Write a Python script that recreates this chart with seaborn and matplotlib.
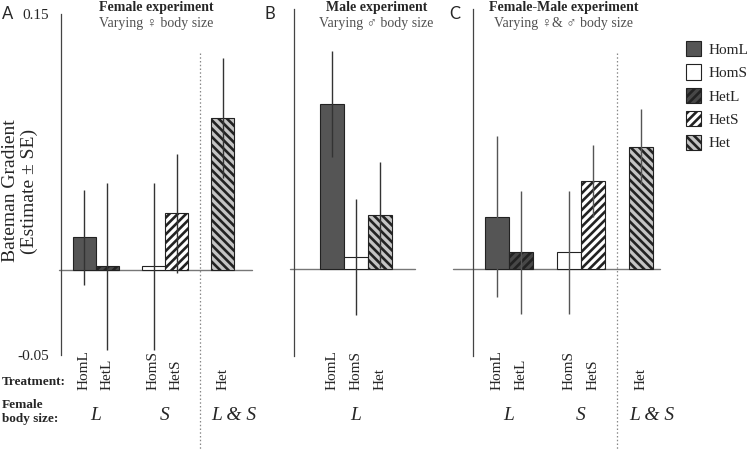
import matplotlib
matplotlib.use("Agg")
import matplotlib.pyplot as plt
import seaborn as sns
import pandas as pd
from matplotlib.patches import Patch
from matplotlib import transforms

sns.set_style("white")
plt.rcParams["font.family"] = ["Liberation Serif", "DejaVu Sans"]
plt.rcParams["hatch.linewidth"] = 1.9

# ---------------- data ----------------
treat_a = ["HomL", "HetL", "HomS", "HetS", "Het"]
est_a = [0.019, 0.002, 0.002, 0.033, 0.089]
se_a = [0.028, 0.049, 0.049, 0.035, 0.035]

treat_b = ["HomL", "HomS", "Het"]
est_b = [0.097, 0.007, 0.032]
se_b = [0.031, 0.034, 0.031]

treat_c = ["HomL", "HetL", "HomS", "HetS", "Het"]
est_c = [0.031, 0.010, 0.010, 0.052, 0.072]
se_c = [0.047, 0.036, 0.036, 0.021, 0.022]

ytick_labels = ["-0.05", "0.15"]
legend_labels = ["HomL", "HomS", "HetL", "HetS", "Het"]

titles = ["Female experiment", "Male experiment", "Female-Male experiment"]
subtitles = ["Varying \u2640 body size", "Varying \u2642 body size",
             "Varying \u2640& \u2642 body size"]
letters = ["A", "B", "C"]

# ---------------- styles ----------------
fills = ["#555555", "#ffffff", "#474747", "#ffffff", "#c4c4c4"]
hatches = ["", "", "////", "////", "\\\\\\\\"]
fill_map = dict(zip(legend_labels, fills))
hatch_map = dict(zip(legend_labels, hatches))
EDGE = "#222222"

W, H = 750, 449
fig = plt.figure(figsize=(W / 100, H / 100), dpi=100)


def rect(l, t, r, b):
    return [l / W, 1 - b / H, (r - l) / W, (b - t) / H]


slots_a = ["HomL", "HetL", "_g1", "HomS", "HetS", "_g2", "Het"]
slots_b = ["HomL", "HomS", "Het"]
slots_c = ["HomL", "HetL", "_g1", "HomS", "HetS", "_g2", "Het"]

groups_a = [("L", ["HomL", "HetL"]), ("S", ["HomS", "HetS"]), ("L & S", ["Het"])]
groups_b = [("L", ["HomL", "HomS", "Het"])]
groups_c = groups_a

panels = [
    dict(treat=treat_a, est=est_a, se=se_a, slots=slots_a, groups=groups_a,
         rect=rect(61, 14, 252, 355), ylim=(-0.05, 0.15), xlim=(-1.02, 7.28),
         labels=True, zxmin=-0.012, dotted=5.0, title_x=156.5, letter_x=8,
         err="#333333"),
    dict(treat=treat_b, est=est_b, se=se_b, slots=slots_b, groups=groups_b,
         rect=rect(294.3, 9.3, 415, 356), ylim=(-0.0508, 0.1525), xlim=(-1.54, 3.43),
         labels=False, zxmin=-0.035, dotted=None, title_x=376.5, letter_x=270,
         err="#333333"),
    dict(treat=treat_c, est=est_c, se=se_c, slots=slots_c, groups=groups_c,
         rect=rect(473, 9.3, 660, 356), ylim=(-0.0508, 0.1525), xlim=(-1.0, 6.79),
         labels=False, zxmin=-0.107, dotted=5.0, title_x=564, letter_x=455,
         err="#555555"),
]

for i, p in enumerate(panels):
    ax = fig.add_axes(p["rect"])
    df = pd.DataFrame({"treatment": p["treat"], "estimate": p["est"], "se": p["se"]})
    sns.barplot(data=df, x="treatment", y="estimate", order=p["slots"],
                hue="treatment", palette=fill_map, legend=False, width=1.0,
                saturation=1, errorbar=None, ax=ax, zorder=2)
    for patch in ax.patches:
        cx = patch.get_x() + patch.get_width() / 2
        name = p["slots"][int(round(cx))]
        patch.set_facecolor(fill_map[name])
        patch.set_edgecolor(EDGE)
        patch.set_linewidth(0.8)
        patch.set_hatch(hatch_map[name])
    xpos = [p["slots"].index(t) for t in p["treat"]]
    ax.errorbar(xpos, p["est"], yerr=p["se"], fmt="none", ecolor=p["err"],
                elinewidth=1.0, capsize=0, zorder=4)
    ax.axhline(0, xmin=p["zxmin"], xmax=1, color="#777777", lw=1.0,
               zorder=1, clip_on=False)

    ax.set_ylim(*p["ylim"])
    ax.set_xlim(*p["xlim"])
    ax.set_xlabel("")
    ax.set_ylabel("")
    for s in ["top", "right", "bottom"]:
        ax.spines[s].set_visible(False)
    ax.spines["left"].set_color("#444444")
    ax.spines["left"].set_linewidth(0.9)
    ax.set_yticks(list(p["ylim"]))
    if p["labels"]:
        ax.set_yticklabels(ytick_labels)
    ax.tick_params(axis="y", length=3, width=0.9, color="#444444", pad=5.5,
                   labelsize=11, labelleft=p["labels"])
    ticklabels = ["" if s.startswith("_") else s for s in p["slots"]]
    ax.set_xticks(range(len(p["slots"])))
    ax.set_xticklabels(ticklabels, rotation=90, rotation_mode="anchor",
                       ha="left", va="center", fontsize=11)
    bottom_px = H - (p["rect"][1] * H)
    ax.tick_params(axis="x", length=0, pad=(390 - bottom_px) / 100 * 72)

    tr = transforms.blended_transform_factory(ax.transData, fig.transFigure)
    for g, members in p["groups"]:
        mp = [p["slots"].index(m) for m in members]
        if len(mp) > 1:
            ax.text(sum(mp) / len(mp), 1 - 415 / H, g, transform=tr, ha="center",
                    va="center", fontsize=14, fontstyle="italic")
        else:
            ax.text(mp[0] - 0.5, 1 - 415 / H, g, transform=tr, ha="left",
                    va="center", fontsize=14, fontstyle="italic")
    if p["dotted"] is not None:
        ax.plot([p["dotted"], p["dotted"]], [1 - 53 / H, 0], transform=tr,
                ls=(0, (1.2, 1.8)), color="#888888", lw=0.9, clip_on=False)

    fig.text(p["title_x"] / W, 1 - 7 / H, titles[i], ha="center", va="center",
             fontsize=10, fontweight="bold")
    fig.text(p["title_x"] / W, 1 - 23 / H, subtitles[i], ha="center", va="center",
             fontsize=10, color="#505050")
    fig.text(p["letter_x"] / W, 1 - 14 / H, letters[i], ha="center", va="center",
             fontsize=12, family=["Lato", "DejaVu Sans"])

fig.text(20 / W, 1 - 191 / H, "Bateman Gradient\n(Estimate \u00b1 SE)", rotation=90,
         ha="center", va="center", fontsize=14, linespacing=1.15,
         multialignment="center")
fig.text(2 / W, 1 - 382 / H, "Treatment:", ha="left", va="center",
         fontsize=9.5, fontweight="bold")
fig.text(2 / W, 1 - 412 / H, "Female\nbody size:", ha="left", va="center",
         fontsize=9.5, fontweight="bold", linespacing=1.2)

handles = [Patch(facecolor=f, edgecolor=EDGE, hatch=h, lw=0.8)
           for f, h in zip(fills, hatches)]
fig.legend(handles, legend_labels, loc="upper left",
           bbox_to_anchor=(686 / W, 1 - 41 / H), frameon=False, fontsize=11,
           handlelength=1.0, handleheight=1.15, handletextpad=0.45,
           labelspacing=0.5, borderpad=0, borderaxespad=0)

fig.savefig("out.png", dpi=100)
